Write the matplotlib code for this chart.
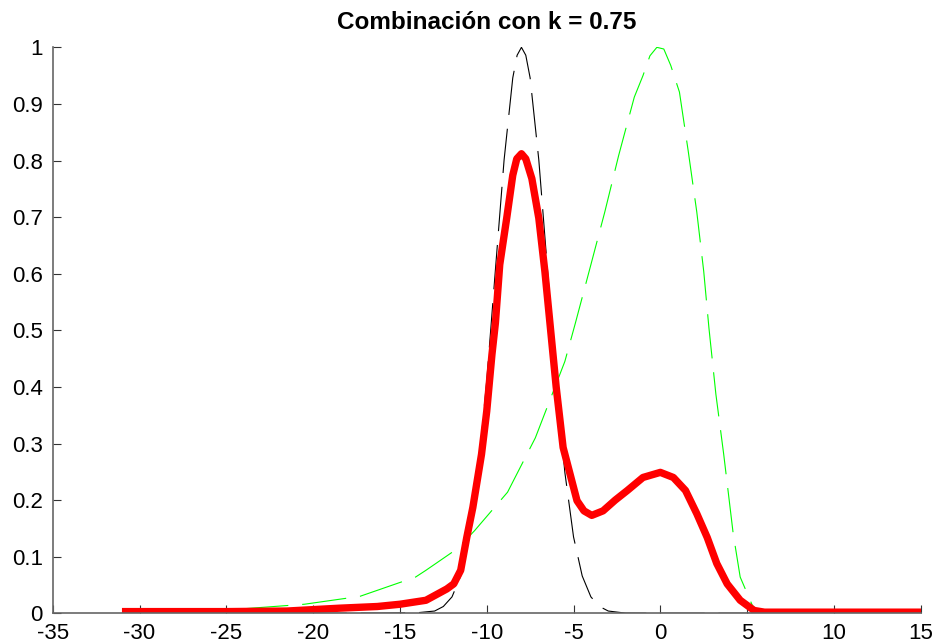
import matplotlib
matplotlib.use("Agg")
import matplotlib.pyplot as plt

# values
# black dashed curve (narrow peak near -8)
black_x = [-30.7, -20, -16, -14, -13, -12.5, -12, -11.5, -11, -10.5, -10, -9.5, -9, -8.5, -8.25,
           -8, -7.75, -7.5, -7, -6.5, -6, -5.5, -5, -4.5, -4, -3.5, -3, -2, 0, 5, 15]
black_y = [0, 0, 0.0003, 0.001, 0.004, 0.012, 0.029, 0.066, 0.135, 0.249, 0.411, 0.607, 0.801,
           0.946, 0.986, 1.0, 0.986, 0.946, 0.801, 0.607, 0.411, 0.249, 0.135, 0.066, 0.029, 0.012,
           0.004, 0.0003, 0, 0, 0]

# green dashed curve (wide skewed peak near 0)
green_x = [-30.7, -27, -24, -20.5, -17.3, -14.1, -13.5, -11.7, -10.7, -8.8, -7.2, -5.5, -4.9, -4.0,
           -3.2, -2.4, -1.5, -1.0, -0.6, -0.2, 0.2, 0.6, 1.1, 1.6, 2.1, 2.5, 2.8, 3.2, 3.65, 4.2,
           4.6, 5.3, 5.7, 6.5, 15]
green_y = [0.003, 0.005, 0.008, 0.016, 0.030, 0.064, 0.076, 0.114, 0.146, 0.214, 0.310, 0.445,
           0.512, 0.616, 0.709, 0.809, 0.912, 0.950, 0.985, 1.0, 0.997, 0.968, 0.921, 0.818, 0.709,
           0.604, 0.504, 0.387, 0.281, 0.140, 0.064, 0.014, 0.0, 0.0, 0.0]

# red combination curve
red_x = [-30.8, -25, -21.5, -18.5, -16.3, -15.0, -13.5, -12.3, -11.9, -11.5, -11.15, -10.8, -10.3,
         -10.0, -9.7, -9.5, -9.25, -8.85, -8.5, -8.27, -8.0, -7.75, -7.4, -7.0, -6.65, -6.35, -6.0,
         -5.6, -5.2, -4.8, -4.4, -3.95, -3.3, -2.6, -1.9, -1.0, 0.0, 0.75, 1.45, 2.1, 2.7, 3.25,
         3.85, 4.6, 5.4, 6.0, 10, 15]
red_y = [0.003, 0.003, 0.004, 0.009, 0.012, 0.016, 0.023, 0.043, 0.052, 0.076, 0.134, 0.187, 0.281,
         0.357, 0.457, 0.513, 0.616, 0.698, 0.774, 0.803, 0.812, 0.803, 0.768, 0.698, 0.604, 0.510,
         0.400, 0.293, 0.246, 0.199, 0.181, 0.173, 0.181, 0.200, 0.217, 0.240, 0.249, 0.240, 0.217,
         0.176, 0.134, 0.088, 0.052, 0.023, 0.005, 0.002, 0.002, 0.002]

x_ticks = [-35, -30, -25, -20, -15, -10, -5, 0, 5, 10, 15]
y_ticks = [0, 0.1, 0.2, 0.3, 0.4, 0.5, 0.6, 0.7, 0.8, 0.9, 1]
y_labels = ['0', '0.1', '0.2', '0.3', '0.4', '0.5', '0.6', '0.7', '0.8', '0.9', '1']

plt.rcParams['font.family'] = ['Liberation Sans', 'DejaVu Sans']
plt.rcParams['lines.scale_dashes'] = False

fig = plt.figure(figsize=(9.38, 6.43), dpi=100)
ax = fig.add_axes([0.0562, 0.0462, 0.9254, 0.8802])

ax.plot(black_x, black_y, color='black', linewidth=0.8, dashes=(32, 10))
ax.plot(green_x, green_y, color='#00ff00', linewidth=0.8, dashes=(32, 10))
ax.plot(red_x, red_y, color='red', linewidth=5.3, solid_joinstyle='round')

ax.set_xlim(-35, 15)
ax.set_ylim(0, 1)
ax.set_xticks(x_ticks)
ax.set_xticklabels([str(v) for v in x_ticks])
ax.set_yticks(y_ticks)
ax.set_yticklabels(y_labels)

ax.spines['top'].set_visible(False)
ax.spines['right'].set_visible(False)
for s in ['left', 'bottom']:
    ax.spines[s].set_color('#666666')
    ax.spines[s].set_linewidth(1.2)

ax.tick_params(direction='in', length=6, width=0.8, color='#333333', labelsize=16)
ax.tick_params(axis='y', pad=7)
ax.tick_params(axis='x', pad=7)

ax.set_title('Combinación con k = 0.75', fontsize=17.5, fontweight='bold', pad=13)

fig.savefig('out.png', dpi=100)
